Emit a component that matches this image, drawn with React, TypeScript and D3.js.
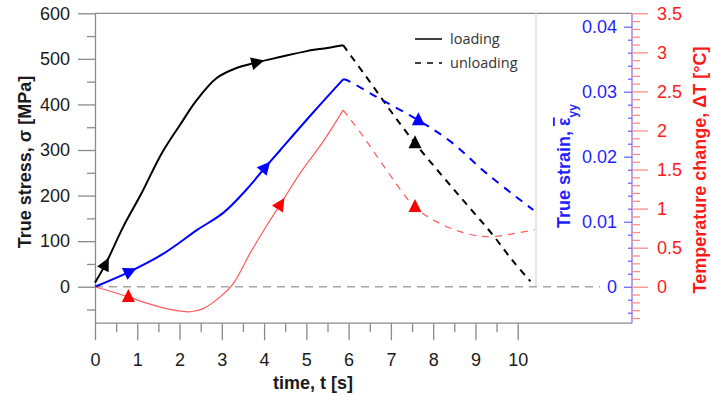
import { useEffect, useRef } from "react"
import * as d3 from "d3"

// time [s] and values
const stressLoadT = [0, 0.24, 0.67, 1.1, 1.58, 2.01, 2.41, 2.88, 3.35, 3.82, 4.38, 5.01, 5.5, 5.87]
const stressLoad = [9, 48, 132, 205, 293, 355, 410, 458, 480, 492, 504, 517, 524, 530]
const stressUnloadT = [5.87, 6.5, 7.0, 7.57, 8.2, 8.8, 9.4, 9.9, 10.3]
const stressUnload = [530, 450, 385, 315, 245, 180, 115, 55, 12]

const strainLoadT = [0, 0.81, 1.62, 2.41, 3.04, 3.59, 4.02, 4.38, 5.16, 5.87]
const strainLoad = [0, 0.0023, 0.0051, 0.0087, 0.0114, 0.015, 0.0183, 0.021, 0.0268, 0.0319]
const strainUnloadT = [5.87, 5.95, 6.66, 7.65, 8.4, 9.27, 10.37]
const strainUnload = [0.0319, 0.0318, 0.0292, 0.0256, 0.0224, 0.0174, 0.0118]

const tempLoadT = [0, 0.79, 1.22, 1.77, 2.25, 2.56, 2.96, 3.27, 3.67, 4.06, 4.38, 4.85, 5.4, 5.87]
const tempLoad = [0, -0.13, -0.21, -0.29, -0.32, -0.28, -0.13, 0.04, 0.43, 0.78, 1.05, 1.45, 1.86, 2.26]
const tempUnloadT = [5.87, 6.35, 6.9, 7.57, 8.16, 8.79, 9.34, 9.9, 10.4]
const tempUnload = [2.26, 1.92, 1.49, 1.02, 0.81, 0.68, 0.64, 0.68, 0.73]

// arrow markers: series key, point index, upright or along the curve
const markerSeries = ["stressLoad", "stressLoad", "stressUnload", "strainLoad", "strainLoad", "strainUnload", "tempLoad", "tempLoad", "tempUnload"]
const markerIndex = [1, 9, 3, 1, 6, 3, 1, 10, 3]
const markerUpright = [false, false, true, false, false, true, true, false, true]

const timeTicks = [0, 1, 2, 3, 4, 5, 6, 7, 8, 9, 10]
const stressTicks = [0, 100, 200, 300, 400, 500, 600]
const strainTicks = [0, 0.01, 0.02, 0.03, 0.04]
const tempTicks = [0, 0.5, 1, 1.5, 2, 2.5, 3, 3.5]

const FONT = "'Liberation Sans', Arial, sans-serif"

export default function App() {
  const svgRef = useRef<SVGSVGElement>(null)

  useEffect(() => {
    if (!svgRef.current) return
    const svg = d3.select(svgRef.current)
    svg.selectAll("*").remove()

    const left = 95
    const right = 632
    const top = 13.3
    const bottom = 323.2

    const x = d3.scaleLinear().domain([0, 10]).range([left, 517.7])
    const yL = d3.scaleLinear().domain([-80, 600]).range([bottom, top])
    const yB = d3.scaleLinear().domain([0, 0.04]).range([yL(0), 26.7])
    const yR = d3.scaleLinear().domain([0, 3.5]).range([yL(0), top])

    // plot frame
    svg.append("line").attr("x1", left).attr("x2", right).attr("y1", top).attr("y2", top)
      .attr("stroke", "#8a8a8a").attr("stroke-width", 1.3)
    svg.append("line").attr("x1", 536).attr("x2", 536).attr("y1", top).attr("y2", yL(0))
      .attr("stroke", "#d9d9d9").attr("stroke-width", 1.3)

    // zero line
    svg.append("line").attr("x1", left).attr("x2", 600).attr("y1", yL(0)).attr("y2", yL(0))
      .attr("stroke", "#a6a6a6").attr("stroke-width", 1.5).attr("stroke-dasharray", "8,6")

    const styleTicks = (g: any, color: string) => {
      g.selectAll("line").attr("stroke", color).attr("stroke-width", 1.3)
      g.selectAll("path").attr("stroke", color).attr("stroke-width", 1.3)
      g.selectAll("text").attr("fill", color === "#8a8a8a" ? "#1a1a1a" : color)
        .style("font-family", FONT).style("font-size", "18px")
    }

    // left axis
    const gL = svg.append("g").attr("transform", `translate(${left},0)`)
      .call(d3.axisLeft(yL).tickValues(stressTicks).tickSize(17).tickSizeOuter(0).tickPadding(8))
    styleTicks(gL, "#8a8a8a")
    const gLm = svg.append("g").attr("transform", `translate(${left},0)`)
      .call(d3.axisLeft(yL).tickValues(d3.range(-50, 600, 100)).tickSize(8).tickFormat(() => ""))
    gLm.select(".domain").remove()
    styleTicks(gLm, "#8a8a8a")

    // bottom axis
    svg.append("line").attr("x1", left).attr("x2", right).attr("y1", bottom).attr("y2", bottom)
      .attr("stroke", "#8a8a8a").attr("stroke-width", 1.3)
    const gX = svg.append("g").attr("transform", `translate(0,${bottom})`)
      .call(d3.axisBottom(x).tickValues(timeTicks).tickSize(17).tickPadding(13))
    gX.select(".domain").remove()
    styleTicks(gX, "#8a8a8a")
    const gXm = svg.append("g").attr("transform", `translate(0,${bottom})`)
      .call(d3.axisBottom(x).tickValues(d3.range(0.5, 10, 1)).tickSize(9).tickFormat(() => ""))
    gXm.select(".domain").remove()
    styleTicks(gXm, "#8a8a8a")

    // strain axis (blue), ticks to the left
    const blue = "#1f1fff"
    svg.append("line").attr("x1", right).attr("x2", right).attr("y1", top).attr("y2", bottom)
      .attr("stroke", "#7a7aff").attr("stroke-width", 1.3)
    const gB = svg.append("g").attr("transform", `translate(${right},0)`)
      .call(d3.axisLeft(yB).tickValues(strainTicks).tickSize(8).tickPadding(7)
        .tickFormat((d: any) => (d === 0 ? "0" : d3.format(".2f")(d))))
    gB.select(".domain").remove()
    styleTicks(gB, blue)
    gB.selectAll("line").attr("stroke", "#6a6aff")
    const gBm = svg.append("g").attr("transform", `translate(${right},0)`)
      .call(d3.axisLeft(yB).tickValues(d3.range(-2, 21).filter((i) => i % 5 !== 0).map((i) => i * 0.002))
        .tickSize(4).tickFormat(() => ""))
    gBm.select(".domain").remove()
    styleTicks(gBm, "#6a6aff")

    // temperature axis (red), ticks to the right
    const red = "#ff1a1a"
    const gR = svg.append("g").attr("transform", `translate(${right},0)`)
      .call(d3.axisRight(yR).tickValues(tempTicks).tickSize(16).tickPadding(9)
        .tickFormat((d: any) => String(d)))
    gR.select(".domain").remove()
    styleTicks(gR, red)
    gR.selectAll("line").attr("stroke", "#ff8c8c")
    const gRm = svg.append("g").attr("transform", `translate(${right},0)`)
      .call(d3.axisRight(yR).tickValues(d3.range(-4, 35).filter((i) => i % 5 !== 0).map((i) => i * 0.1))
        .tickSize(8).tickFormat(() => ""))
    gRm.select(".domain").remove()
    styleTicks(gRm, "#ff8c8c")

    // axis titles
    svg.append("text").attr("transform", `translate(31,162) rotate(-90)`)
      .attr("text-anchor", "middle").attr("fill", "#1a1a1a")
      .style("font-family", FONT).style("font-size", "18px").style("font-weight", "bold")
      .text("True stress, σ [MPa]")
    svg.append("text").attr("x", 313).attr("y", 389).attr("text-anchor", "middle").attr("fill", "#1a1a1a")
      .style("font-family", FONT).style("font-size", "18px").style("font-weight", "bold")
      .text("time, t [s]")
    const tB = svg.append("text").attr("transform", `translate(570,166) rotate(-90)`)
      .attr("text-anchor", "middle").attr("fill", blue)
      .style("font-family", FONT).style("font-size", "18px").style("font-weight", "bold")
    tB.append("tspan").text("True strain, ")
    tB.append("tspan").style("text-decoration", "overline").text("ε")
    tB.append("tspan").attr("baseline-shift", "sub").style("font-size", "12px").text("yy")
    svg.append("text").attr("transform", `translate(706,170) rotate(-90)`)
      .attr("text-anchor", "middle").attr("fill", red)
      .style("font-family", FONT).style("font-size", "18px").style("font-weight", "bold")
      .text("Temperature change, ΔT [°C]")

    // curves
    const series: any = {
      stressLoad: { t: stressLoadT, v: stressLoad, y: yL, color: "#000", mcolor: "#000", w: 2, dash: null },
      stressUnload: { t: stressUnloadT, v: stressUnload, y: yL, color: "#000", mcolor: "#000", w: 2, dash: "7,6" },
      strainLoad: { t: strainLoadT, v: strainLoad, y: yB, color: "#0000ff", mcolor: "#0000ff", w: 2, dash: null },
      strainUnload: { t: strainUnloadT, v: strainUnload, y: yB, color: "#0000ff", mcolor: "#0000ff", w: 2, dash: "8,7" },
      tempLoad: { t: tempLoadT, v: tempLoad, y: yR, color: "#ff5a5a", mcolor: "#ff0000", w: 1.2, dash: null },
      tempUnload: { t: tempUnloadT, v: tempUnload, y: yR, color: "#ff5a5a", mcolor: "#ff0000", w: 1.2, dash: "7,6" },
    }

    Object.keys(series).forEach((k) => {
      const s = series[k]
      const pts: [number, number][] = s.t.map((t: number, i: number) => [x(t), s.y(s.v[i])])
      s.pts = pts
      const line = d3.line().curve(d3.curveCatmullRom.alpha(0.5))
      svg.append("path").attr("d", line(pts)).attr("fill", "none")
        .attr("stroke", s.color).attr("stroke-width", s.w)
        .attr("stroke-dasharray", s.dash)
    })

    // arrow markers
    markerSeries.forEach((k, m) => {
      const s = series[k]
      const i = markerIndex[m]
      const [px, py] = s.pts[i]
      const a = s.pts[Math.max(0, i - 1)]
      const b = s.pts[Math.min(s.pts.length - 1, i + 1)]
      const ang = markerUpright[m] ? -90 : (Math.atan2(b[1] - a[1], b[0] - a[0]) * 180) / Math.PI
      svg.append("path").attr("d", "M8,0L-5,-6.5L-5,6.5Z")
        .attr("transform", `translate(${px},${py}) rotate(${ang})`)
        .attr("fill", s.mcolor)
    })

    // legend
    const legendItems = ["loading", "unloading"]
    legendItems.forEach((name, i) => {
      const ly = 39 + i * 24
      svg.append("line").attr("x1", 415).attr("x2", 442).attr("y1", ly).attr("y2", ly)
        .attr("stroke", "#000").attr("stroke-width", 1.5)
        .attr("stroke-dasharray", i === 1 ? "6,6" : null)
      svg.append("text").attr("x", 450).attr("y", ly + 5).attr("fill", "#333")
        .style("font-family", "'Open Sans', sans-serif").style("font-size", "14.5px")
        .text(name)
    })
  }, [])

  return (
    <svg ref={svgRef} width={711} height={396}
      style={{ position: "absolute", left: 0, top: 0, background: "#fff" }} />
  )
}
